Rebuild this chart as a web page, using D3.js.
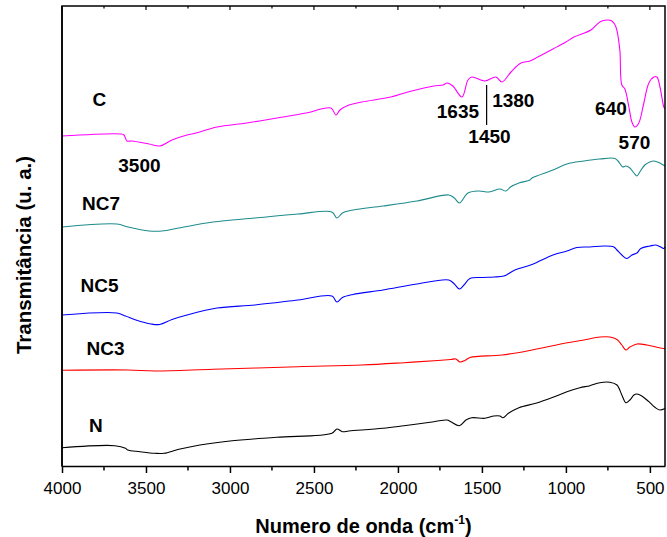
<!DOCTYPE html>
<html>
<head>
<meta charset="utf-8">
<script src="https://cdn.jsdelivr.net/npm/d3@7"></script>
<style>
  html, body { margin: 0; padding: 0; background: #fff; }
  svg { display: block; font-family: Arial, "Liberation Sans", sans-serif; }
</style>
</head>
<body>
<svg id="chart" width="667" height="537"></svg>
<script>
// FTIR spectra: [wavenumber (cm-1), transmittance (a.u.)]
const spectrumC = [
  [4000,330],[3649,332],[3631,331],[3613,325],[3583,325],[3482,322],[3417,320],[3345,326],
  [3256,331],[3202,333],[3077,339],[2899,343],[2720,348],[2548,353],[2399,358],[2369,351],
  [2345,356],[2292,361],[2214,364],[2042,369],[1941,374],[1786,380],[1732,381],[1708,383],
  [1673,380],[1619,369],[1583,386],[1560,389],[1482,385],[1417,389],[1381,384],[1327,394],
  [1268,403],[1214,405],[1167,409],[1077,417],[1000,424],[952,429],[851,436],[798,444],
  [756,446],[726,445],[702,439],[679,416],[667,381],[649,377],[625,359],[607,344],[589,339],
  [566,343],[536,363],[506,383],[476,389],[458,389],[440,379],[417,359],[410,357]
];
const spectrumNC7 = [
  [4000,239],[3673,242],[3607,239],[3482,235],[3405,235],[3304,238],[3101,244],[2851,248],
  [2595,252],[2393,254],[2363,248],[2330,253],[2268,256],[2089,260],[1887,265],[1697,271],
  [1664,268],[1634,263],[1583,273],[1518,275],[1458,274],[1393,277],[1357,275],[1330,279],
  [1280,283],[1214,286],[1202,288],[1077,296],[994,302],[893,305],[798,307],[708,307.5],
  [685,304],[661,299],[643,300],[619,298],[595,293],[577,290],[560,294],[530,301],[500,304],
  [476,305],[441,303],[410,300]
];
const spectrumNC5 = [
  [4000,151],[3673,153],[3622,150],[3560,146],[3470,142],[3419,141.5],[3345,146.5],[3256,151],
  [3077,158],[2851,161],[2595,166],[2393,170],[2363,164],[2330,168.5],[2268,171.5],[2089,176],
  [1887,182],[1697,186],[1664,182],[1634,177],[1607,181],[1571,187.5],[1494,188.5],[1429,189],
  [1369,190],[1304,196],[1202,201.5],[1077,211],[994,215],[935,218.5],[857,219],[774,220],
  [714,219],[696,216],[667,211],[637,207.5],[607,211],[577,213],[554,217.5],[500,220],
  [464,221],[435,219],[417,217.5],[410,219]
];
const spectrumNC3 = [
  [4000,95.7],[3609,96],[3446,95],[3101,96.7],[2595,99.3],[2214,101],[1964,103.3],[1762,105.5],
  [1685,106.5],[1655,107],[1631,104],[1601,105.5],[1571,108.5],[1381,111],[1202,116],[1000,123],
  [893,126],[798,129],[738,129],[696,126.5],[667,121],[643,116],[619,119],[577,122],[518,121],
  [458,118.7],[410,117.3]
];
const spectrumN = [
  [4000,18.3],[3685,20.3],[3622,17.7],[3609,16],[3536,14.3],[3446,12.7],[3393,12.7],[3304,16.7],
  [3179,21],[3000,25],[2723,28.7],[2393,32.7],[2363,37],[2330,34.3],[2292,35],[2089,37.7],
  [1964,40.3],[1786,44.3],[1708,46],[1685,44.3],[1634,40.3],[1595,46],[1560,48.3],[1482,47.7],
  [1429,50],[1393,50],[1375,48.3],[1342,52.7],[1280,58.3],[1179,62.7],[1077,68.7],[994,74.3],
  [917,78.3],[857,80.3],[798,83.3],[738,83.7],[696,81],[667,71],[643,63.3],[619,66],[595,71],
  [577,72],[548,70],[506,64.3],[470,58.7],[441,56],[410,57.5]
];

const seriesNames = ["C", "NC7", "NC5", "NC3", "N"];
const seriesData = [spectrumC, spectrumNC7, spectrumNC5, spectrumNC3, spectrumN];
const seriesColors = ["#ff00ff", "#1e8c8c", "#0000ff", "#ff0000", "#000000"];
// label anchor for each sample name [wavenumber, transmittance]
const seriesLabelPos = [[3777,360],[3768,256],[3777,174],[3741,111],[3798,34]];

// band assignments written next to the C spectrum
const bandLabels = ["3500", "1635", "1380", "1450", "640", "570"];
const bandLabelPos = [[3539,294],[1643,348],[1313,359],[1455,323],[732,351],[592,317]];
const bandMarker = [[1472,381],[1472,341]];

const xTicks = [4000, 3500, 3000, 2500, 2000, 1500, 1000, 500];
const xMinorTicks = [3750, 3250, 2750, 2250, 1750, 1250, 750];

const svg = d3.select("#chart");
const plotLeft = 62, plotRight = 665, plotTop = 6, plotBottom = 466;

const x = d3.scaleLinear().domain([4000, 410]).range([plotLeft, plotRight]);
const y = d3.scaleLinear().domain([0, 460]).range([plotBottom, plotTop]);

const line = d3.line()
  .x(d => x(d[0]))
  .y(d => y(d[1]))
  .curve(d3.curveCatmullRom.alpha(0.5));

// spectra
svg.append("g").selectAll("path")
  .data(seriesData)
  .join("path")
  .attr("d", line)
  .attr("fill", "none")
  .attr("stroke", (d, i) => seriesColors[i])
  .attr("stroke-width", 1.1)
  .attr("stroke-linejoin", "round");

// frame: top and right edges
svg.append("path")
  .attr("d", `M${plotLeft},${plotBottom}V${plotTop}H${plotRight}V${plotBottom}`)
  .attr("fill", "none")
  .attr("stroke", "#000")
  .attr("stroke-width", 1.5);

// top inner ticks
svg.append("g").selectAll("line")
  .data(xTicks.concat(xMinorTicks))
  .join("line")
  .attr("x1", d => x(d)).attr("x2", d => x(d))
  .attr("y1", plotTop).attr("y2", d => plotTop + (xTicks.includes(d) ? 4 : 2.5))
  .attr("stroke", "#000").attr("stroke-width", 1.2);

// bottom axis
const xAxis = svg.append("g")
  .attr("transform", `translate(0,${plotBottom})`)
  .call(d3.axisBottom(x).tickValues(xTicks).tickSize(7).tickSizeOuter(0).tickFormat(d3.format("d")));
xAxis.select(".domain").attr("stroke-width", 1.5);
xAxis.selectAll(".tick line").attr("stroke-width", 1.5);
xAxis.selectAll(".tick text")
  .attr("y", 28).attr("dy", 0)
  .attr("font-size", 17)
  .attr("font-family", "Arial, 'Liberation Sans', sans-serif")
  .attr("fill", "#000");

svg.append("g").selectAll("line")
  .data(xMinorTicks)
  .join("line")
  .attr("x1", d => x(d)).attr("x2", d => x(d))
  .attr("y1", plotBottom).attr("y2", plotBottom + 4.5)
  .attr("stroke", "#000").attr("stroke-width", 1.5);

// left axis line
svg.append("line")
  .attr("x1", plotLeft).attr("x2", plotLeft)
  .attr("y1", plotTop).attr("y2", plotBottom + 0.75)
  .attr("stroke", "#000").attr("stroke-width", 1.5);

// axis titles
const xTitle = svg.append("text")
  .attr("x", (plotLeft + plotRight) / 2)
  .attr("y", 533)
  .attr("text-anchor", "middle")
  .attr("font-size", 20)
  .attr("font-weight", "bold");
xTitle.append("tspan").text("Numero de onda (cm");
xTitle.append("tspan").text("-1").attr("font-size", 12).attr("dy", -9);
xTitle.append("tspan").text(")").attr("dy", 9);

svg.append("text")
  .attr("transform", "translate(31,255) rotate(-90)")
  .attr("text-anchor", "middle")
  .attr("font-size", 20.5)
  .attr("font-weight", "bold")
  .text("Transmitância (u. a.)");

// sample names
svg.append("g").selectAll("text")
  .data(seriesNames)
  .join("text")
  .attr("x", (d, i) => x(seriesLabelPos[i][0]))
  .attr("y", (d, i) => y(seriesLabelPos[i][1]))
  .attr("text-anchor", "middle")
  .attr("font-size", 19)
  .attr("font-weight", "bold")
  .text(d => d);

// band positions
svg.append("g").selectAll("text")
  .data(bandLabels)
  .join("text")
  .attr("x", (d, i) => x(bandLabelPos[i][0]))
  .attr("y", (d, i) => y(bandLabelPos[i][1]))
  .attr("text-anchor", "middle")
  .attr("font-size", 19)
  .attr("font-weight", "bold")
  .text(d => d);

svg.append("line")
  .attr("x1", x(bandMarker[0][0])).attr("x2", x(bandMarker[1][0]))
  .attr("y1", y(bandMarker[0][1])).attr("y2", y(bandMarker[1][1]))
  .attr("stroke", "#000").attr("stroke-width", 1.2);
</script>
</body>
</html>
